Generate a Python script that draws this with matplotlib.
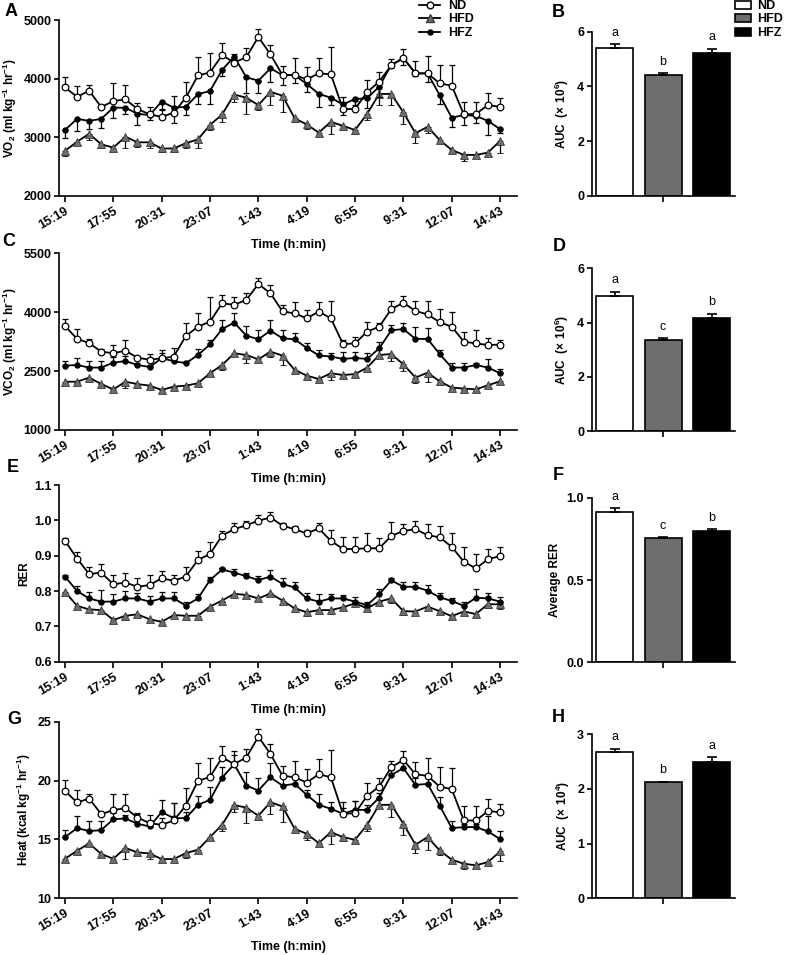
import numpy as np
import matplotlib
matplotlib.use("Agg")
import matplotlib.pyplot as plt
from matplotlib.lines import Line2D
from matplotlib.patches import Patch

plt.rcParams["font.family"] = ["Liberation Sans", "DejaVu Sans"]
plt.rcParams["font.weight"] = "bold"
plt.rcParams["axes.labelweight"] = "bold"
plt.rcParams["mathtext.fontset"] = "custom"
plt.rcParams["mathtext.rm"] = "Liberation Sans:bold"
plt.rcParams["mathtext.sf"] = "Liberation Sans"
plt.rcParams["mathtext.default"] = "rm"

W, H = 787, 955

# ---- time axis ----
time_labels = ["15:19", "17:55", "20:31", "23:07", "1:43",
               "4:19", "6:55", "9:31", "12:07", "14:43"]
groups = ["ND", "HFD", "HFZ"]

# ---- A: VO2 ----
vo2_nd = [3850, 3690, 3795, 3515, 3620, 3645, 3485, 3390, 3350, 3420, 3675, 4055, 4105,
          4400, 4275, 4365, 4710, 4415, 4060, 4060, 3990, 4090, 4075, 3480, 3485, 3770,
          3950, 4230, 4355, 4090, 4090, 3920, 3880, 3390, 3400, 3550, 3520]
vo2_hfd = [2770, 2925, 3060, 2880, 2825, 3010, 2915, 2915, 2810, 2810, 2900, 2965, 3210,
           3390, 3730, 3675, 3550, 3775, 3710, 3325, 3220, 3080, 3265, 3195, 3125, 3400,
           3740, 3740, 3425, 3070, 3180, 2955, 2785, 2700, 2700, 2740, 2940]
vo2_hfz = [3125, 3315, 3280, 3315, 3505, 3505, 3400, 3380, 3610, 3505, 3520, 3735, 3790,
           4150, 4375, 4025, 3965, 4175, 4060, 4060, 3910, 3740, 3675, 3560, 3655, 3665,
           3865, 4235, 4345, 4090, 4090, 3720, 3335, 3380, 3365, 3280, 3140]
vo2_nd_err = [170, 190, 100, 40, 300, 255, 100, 130, 110, 285, 270, 320, 325, 205, 140, 155,
              130, 160, 160, 285, 215, 255, 470, 215, 135, 210, 160, 100, 150, 215, 300,
              310, 350, 205, 200, 210, 155]
vo2_hfd_err = [85, 60, 110, 60, 60, 200, 80, 100, 60, 60, 80, 150, 80, 125, 135, 280, 85,
               225, 270, 60, 80, 60, 200, 60, 60, 100, 185, 185, 205, 160, 110, 60, 50,
               100, 50, 50, 200]
vo2_hfz_err = [130, 215, 140, 160, 180, 100, 190, 85, 130, 265, 140, 170, 225, 110, 40, 270,
               215, 225, 170, 140, 140, 215, 125, 180, 100, 170, 170, 60, 110, 50, 140,
               160, 155, 170, 125, 240, 60]

# ---- C: VCO2 ----
vco2_nd = [3650, 3320, 3215, 2995, 2955, 3020, 2840, 2790, 2825, 2870, 3395, 3630, 3760,
           4225, 4190, 4310, 4720, 4480, 4020, 3970, 3845, 4015, 3845, 3190, 3205, 3505,
           3630, 4080, 4240, 4030, 3945, 3745, 3630, 3250, 3205, 3165, 3175]
vco2_hfd = [2230, 2230, 2335, 2170, 2035, 2230, 2170, 2130, 2020, 2105, 2130, 2190, 2445,
            2655, 2955, 2910, 2800, 2995, 2895, 2530, 2385, 2300, 2445, 2400, 2425, 2590,
            2910, 2935, 2670, 2335, 2460, 2240, 2080, 2055, 2035, 2140, 2240]
vco2_hfz = [2640, 2655, 2590, 2590, 2715, 2755, 2655, 2605, 2825, 2755, 2700, 2910, 3180,
            3570, 3735, 3405, 3310, 3530, 3335, 3310, 3090, 2900, 2870, 2810, 2835, 2810,
            3080, 3540, 3570, 3320, 3320, 2935, 2590, 2590, 2655, 2590, 2445]
vco2_nd_err = [170, 245, 95, 60, 210, 270, 40, 145, 210, 230, 340, 340, 620, 210, 205, 185,
               145, 210, 160, 300, 210, 255, 450, 100, 170, 255, 100, 210, 160, 260, 350,
               340, 365, 255, 340, 185, 120]
vco2_hfd_err = [40, 40, 40, 40, 40, 170, 40, 40, 40, 40, 40, 40, 40, 130, 50, 210, 50, 130,
                240, 50, 50, 50, 170, 50, 50, 100, 50, 170, 170, 130, 240, 100, 40, 40,
                40, 40, 40]
vco2_hfz_err = [120, 170, 170, 170, 150, 130, 50, 50, 145, 60, 60, 145, 110, 230, 240, 255,
                240, 270, 210, 150, 120, 135, 85, 185, 160, 145, 150, 130, 145, 315, 270,
                100, 110, 110, 60, 220, 100]

# ---- E: RER ----
rer_nd = [0.942, 0.892, 0.848, 0.852, 0.819, 0.824, 0.812, 0.817, 0.836, 0.829, 0.841,
          0.888, 0.905, 0.957, 0.975, 0.986, 0.999, 1.008, 0.985, 0.975, 0.963, 0.977,
          0.942, 0.919, 0.919, 0.921, 0.921, 0.956, 0.970, 0.975, 0.958, 0.952, 0.925,
          0.883, 0.864, 0.890, 0.899]
rer_hfd = [0.798, 0.758, 0.748, 0.746, 0.718, 0.730, 0.734, 0.720, 0.713, 0.732, 0.730,
           0.730, 0.756, 0.773, 0.792, 0.789, 0.779, 0.793, 0.773, 0.751, 0.740, 0.746,
           0.746, 0.754, 0.765, 0.751, 0.770, 0.779, 0.743, 0.742, 0.756, 0.743, 0.729,
           0.742, 0.735, 0.763, 0.762]
rer_hfz = [0.841, 0.800, 0.779, 0.770, 0.770, 0.779, 0.779, 0.770, 0.779, 0.779, 0.759,
           0.779, 0.831, 0.861, 0.852, 0.842, 0.831, 0.841, 0.820, 0.810, 0.779, 0.770,
           0.779, 0.779, 0.770, 0.760, 0.791, 0.830, 0.812, 0.812, 0.801, 0.782, 0.772,
           0.758, 0.781, 0.779, 0.770]
rer_nd_err = [0.009, 0.019, 0.019, 0.025, 0.025, 0.026, 0.024, 0.028, 0.022, 0.016, 0.028,
              0.025, 0.035, 0.014, 0.018, 0.012, 0.016, 0.017, 0.007, 0.009, 0.011, 0.016,
              0.030, 0.033, 0.033, 0.042, 0.028, 0.038, 0.019, 0.023, 0.033, 0.032, 0.038,
              0.042, 0.042, 0.029, 0.026]
rer_hfd_err = [0.005, 0.006, 0.005, 0.005, 0.005, 0.012, 0.008, 0.005, 0.005, 0.005, 0.005,
               0.005, 0.005, 0.005, 0.005, 0.005, 0.005, 0.005, 0.008, 0.005, 0.010, 0.006,
               0.012, 0.005, 0.005, 0.008, 0.008, 0.012, 0.012, 0.010, 0.005, 0.005, 0.005,
               0.008, 0.005, 0.012, 0.012]
rer_hfz_err = [0.004, 0.014, 0.019, 0.033, 0.021, 0.021, 0.014, 0.017, 0.019, 0.019, 0.010,
               0.012, 0.009, 0.004, 0.009, 0.008, 0.011, 0.019, 0.016, 0.016, 0.014, 0.022,
               0.012, 0.009, 0.014, 0.009, 0.014, 0.007, 0.014, 0.014, 0.016, 0.013, 0.008,
               0.011, 0.024, 0.014, 0.014]

# ---- G: Heat ----
heat_nd = [19.12, 18.14, 18.47, 17.15, 17.49, 17.66, 16.86, 16.38, 16.24, 16.61, 17.88,
           19.97, 20.31, 21.95, 21.41, 21.95, 23.73, 22.26, 20.41, 20.28, 19.83, 20.54,
           20.28, 17.18, 17.23, 18.70, 19.49, 21.13, 21.75, 20.54, 20.40, 19.49, 19.27,
           16.61, 16.61, 17.40, 17.32]
heat_hfd = [13.36, 14.04, 14.66, 13.76, 13.36, 14.27, 13.90, 13.81, 13.33, 13.33, 13.84,
            14.12, 15.20, 16.24, 17.91, 17.71, 17.01, 18.16, 17.80, 15.90, 15.48, 14.69,
            15.62, 15.20, 14.97, 16.24, 17.94, 17.94, 16.33, 14.55, 15.20, 14.07, 13.28,
            12.94, 12.80, 13.08, 13.98]
heat_hfz = [15.20, 15.96, 15.71, 15.79, 16.72, 16.78, 16.33, 16.10, 17.32, 16.81, 16.81,
            17.94, 18.36, 20.25, 21.38, 19.58, 19.15, 20.28, 19.57, 19.72, 18.79, 17.94,
            17.60, 17.18, 17.51, 17.51, 18.56, 20.48, 21.05, 19.63, 19.72, 17.88, 15.96,
            16.05, 16.05, 15.68, 15.03]
heat_nd_err = [0.93, 1.02, 0.40, 0.15, 1.36, 1.21, 0.37, 0.71, 0.55, 1.47, 1.47, 1.56, 1.64,
               1.02, 0.80, 0.74, 0.62, 0.85, 0.79, 1.41, 1.13, 1.27, 2.32, 0.99, 1.05, 1.07,
               0.76, 0.56, 0.79, 1.07, 1.55, 1.69, 1.78, 1.24, 1.24, 1.02, 0.71]
heat_hfd_err = [0.20, 0.20, 0.20, 0.20, 0.20, 0.90, 0.30, 0.48, 0.20, 0.20, 0.42, 0.20, 0.20,
                0.56, 0.54, 1.33, 0.34, 0.99, 1.30, 0.20, 0.56, 0.20, 0.99, 0.30, 0.30, 0.56,
                0.30, 1.07, 0.93, 0.71, 1.07, 0.37, 0.20, 0.42, 0.20, 0.20, 0.85]
heat_hfz_err = [0.62, 0.99, 0.82, 0.79, 0.50, 0.30, 0.85, 0.50, 0.99, 1.27, 0.50, 0.79, 1.07,
                0.88, 1.13, 1.13, 1.10, 1.24, 0.90, 0.40, 0.42, 0.90, 0.56, 0.50, 0.76, 0.40,
                0.40, 0.40, 0.50, 0.60, 0.60, 0.76, 0.62, 0.30, 0.30, 1.27, 0.71]

# ---- bar panels (ND, HFD, HFZ) ----
auc_vo2 = [5.42, 4.42, 5.21]
auc_vo2_err = [0.12, 0.06, 0.17]
auc_vo2_letters = ["a", "b", "a"]
auc_vco2 = [4.98, 3.36, 4.16]
auc_vco2_err = [0.16, 0.06, 0.16]
auc_vco2_letters = ["a", "c", "b"]
avg_rer = [0.915, 0.753, 0.798]
avg_rer_err = [0.02, 0.006, 0.01]
avg_rer_letters = ["a", "c", "b"]
auc_heat = [2.68, 2.12, 2.50]
auc_heat_err = [0.06, 0.015, 0.08]
auc_heat_letters = ["a", "b", "a"]

HFD_GRAY = "#6e6e6e"
BAR_COLORS = ["white", HFD_GRAY, "black"]


def px_axes(fig, left, top, right, bottom):
    return fig.add_axes([left / W, 1 - bottom / H, (right - left) / W, (bottom - top) / H])


def style_axes(ax):
    for s in ("top", "right"):
        ax.spines[s].set_visible(False)
    for s in ("left", "bottom"):
        ax.spines[s].set_linewidth(1.2)
    ax.tick_params(direction="out", width=1.2, labelsize=9, pad=2)
    ax.tick_params(axis="x", length=4.5)
    ax.tick_params(axis="y", length=3.5)


def time_panel(ax, nd, hfd, hfz, nd_err, hfd_err, hfz_err, hfz_up, ylim, yticks, ylabel):
    x = np.arange(len(nd))
    zeros = np.zeros(len(nd))
    common = dict(color="black", ecolor="black", elinewidth=0.9, capsize=2.3,
                  capthick=0.9, lw=1.3, clip_on=False)
    ax.errorbar(x, hfd, yerr=[hfd_err, zeros], marker="^", ms=5.5,
                mfc=HFD_GRAY, mec="#3a3a3a", mew=0.6, zorder=3, **common)
    hfz_yerr = [zeros, hfz_err] if hfz_up else [hfz_err, zeros]
    ax.errorbar(x, hfz, yerr=hfz_yerr, marker="o", ms=3.6,
                mfc="black", mec="black", zorder=4, **common)
    ax.errorbar(x, nd, yerr=[zeros, nd_err], marker="o", ms=4.8,
                mfc="white", mec="black", mew=0.9, zorder=5, **common)
    ax.set_xlim(-0.47, 37.4)
    ax.set_ylim(*ylim)
    ax.set_yticks(yticks)
    ax.set_xticks(np.arange(0, 37, 4))
    ax.set_xticklabels(time_labels, rotation=30, ha="right", rotation_mode="anchor")
    ax.set_xlabel("Time (h:min)", fontsize=9, labelpad=5)
    ax.set_ylabel(ylabel, fontsize=8.5, labelpad=3)
    style_axes(ax)


def bar_panel(ax, values, errs, letters, ylim, yticks, ylabel, fmt=None):
    x = np.arange(3)
    ax.bar(x, values, width=0.76, color=BAR_COLORS, edgecolor="black", linewidth=1.2)
    ax.errorbar(x, values, yerr=[np.zeros(3), errs], fmt="none", ecolor="black",
                elinewidth=1.2, capsize=3.6, capthick=1.2)
    for i, (v, e, t) in enumerate(zip(values, errs, letters)):
        ax.annotate(t, (i, v + e), xytext=(0, 4), textcoords="offset points",
                    ha="center", va="bottom", fontsize=9, fontweight="normal",
                    annotation_clip=False)
    ax.set_xlim(-0.47, 2.48)
    ax.set_ylim(*ylim)
    ax.set_yticks(yticks)
    if fmt:
        ax.set_yticklabels([fmt % t for t in yticks])
    ax.set_xticks([1])
    ax.set_xticklabels([""])
    ax.set_ylabel(ylabel, fontsize=8.5, labelpad=4)
    style_axes(ax)


fig = plt.figure(figsize=(W / 100, H / 100), dpi=100)

axA = px_axes(fig, 59.3, 20, 517, 196)
time_panel(axA, vo2_nd, vo2_hfd, vo2_hfz, vo2_nd_err, vo2_hfd_err, vo2_hfz_err, False,
           (2000, 5000), [2000, 3000, 4000, 5000],
           r"VO$_{2}$ (ml kg$^{-1}$ hr$^{-1}$)")
axC = px_axes(fig, 59.3, 253.3, 517, 430)
time_panel(axC, vco2_nd, vco2_hfd, vco2_hfz, vco2_nd_err, vco2_hfd_err, vco2_hfz_err, True,
           (1000, 5500), [1000, 2500, 4000, 5500],
           r"VCO$_{2}$ (ml kg$^{-1}$ hr$^{-1}$)")
axE = px_axes(fig, 59.3, 485, 517, 661.7)
time_panel(axE, rer_nd, rer_hfd, rer_hfz, rer_nd_err, rer_hfd_err, rer_hfz_err, True,
           (0.6, 1.1), [0.6, 0.7, 0.8, 0.9, 1.0, 1.1], "RER")
axG = px_axes(fig, 59.3, 721.7, 517, 898.3)
time_panel(axG, heat_nd, heat_hfd, heat_hfz, heat_nd_err, heat_hfd_err, heat_hfz_err, True,
           (10, 25), [10, 15, 20, 25],
           r"Heat (kcal kg$^{-1}$ hr$^{-1}$)")

axB = px_axes(fig, 591.7, 31.7, 735, 195.7)
bar_panel(axB, auc_vo2, auc_vo2_err, auc_vo2_letters, (0, 6), [0, 2, 4, 6],
          r"AUC  $\mathsf{(×\ 10^{6})}$")
axD = px_axes(fig, 591.7, 268.3, 735, 431)
bar_panel(axD, auc_vco2, auc_vco2_err, auc_vco2_letters, (0, 6), [0, 2, 4, 6],
          r"AUC  $\mathsf{(×\ 10^{6})}$")
axF = px_axes(fig, 591.7, 497.7, 735, 662.3)
bar_panel(axF, avg_rer, avg_rer_err, avg_rer_letters, (0, 1.0), [0.0, 0.5, 1.0],
          "Average RER", fmt="%.1f")
axH = px_axes(fig, 591.7, 734.3, 735, 898.3)
bar_panel(axH, auc_heat, auc_heat_err, auc_heat_letters, (0, 3), [0, 1, 2, 3],
          r"AUC  $\mathsf{(×\ 10^{4})}$")

# panel letters
for letter, x, y in [("A", 5, 12), ("B", 552, 12.5), ("C", 2, 242), ("D", 553, 246),
                     ("E", 7, 467), ("F", 553, 475), ("G", 7, 719), ("H", 552, 718)]:
    fig.text(x / W, 1 - y / H, letter, fontsize=13, fontweight="bold",
             ha="left", va="center")

# legends
line_handles = [
    Line2D([], [], color="black", lw=1.3, marker="o", ms=4.8, mfc="white", mec="black"),
    Line2D([], [], color="black", lw=1.3, marker="^", ms=5.5, mfc=HFD_GRAY, mec="#3a3a3a"),
    Line2D([], [], color="black", lw=1.3, marker="o", ms=3.6, mfc="black", mec="black"),
]
fig.legend(line_handles, groups, loc="upper left", bbox_to_anchor=(419 / W, 1.0),
           frameon=False, fontsize=9, handlelength=1.7, handletextpad=0.6,
           labelspacing=0.12, borderpad=0, borderaxespad=0)
bar_handles = [Patch(facecolor=c, edgecolor="black", linewidth=1.2) for c in BAR_COLORS]
fig.legend(bar_handles, groups, loc="upper left", bbox_to_anchor=(735 / W, 1.0),
           frameon=False, fontsize=9, handlelength=1.3, handleheight=0.6,
           handletextpad=0.45, labelspacing=0.12, borderpad=0, borderaxespad=0)

fig.savefig("out.png", dpi=100)
